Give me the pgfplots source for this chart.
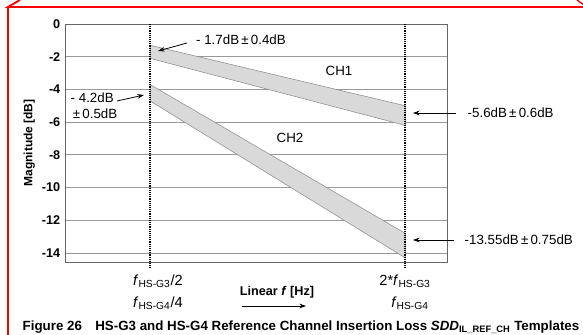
\documentclass[border=0pt]{standalone}
\usepackage{pgfplots}
\pgfplotsset{compat=1.18}
\usepackage{fontspec}
\setmainfont{Liberation Sans}
\usetikzlibrary{arrows.meta}
\begin{document}
\begin{tikzpicture}
\path[use as bounding box] (0,0) rectangle (437.25pt,251.25pt);
\begin{axis}[at={(48.75pt,54.75pt)}, anchor=south west, scale only axis,
  width=286.5pt, height=178.5pt,
  xmin=0, xmax=2.245, ymin=-14.55, ymax=0,
  ytick={-14,-12,-10,-8,-6,-4,-2,0}, xtick=\empty,
  ymajorgrids, grid style={black!40, line width=0.6pt},
  axis line style={draw=black!60, line width=0.7pt},
  major tick length=0pt,
  /pgf/number format/assume math mode=true,
  yticklabel style={font=\fontsize{9.5}{11}\selectfont\bfseries},
  ylabel={Magnitude [dB]},
  ylabel style={font=\fontsize{9}{11}\selectfont\bfseries, yshift=-1.5pt},
  clip=false]
\addplot[fill=gray!30, draw=black!45, line width=0.4pt] coordinates {(0.5,-1.3) (2,-5.0) (2,-6.2) (0.5,-2.1)} -- cycle;
\addplot[fill=gray!30, draw=black!45, line width=0.4pt] coordinates {(0.5,-3.7) (2,-12.8) (2,-14.3) (0.5,-4.7)} -- cycle;
\addplot[black, line width=1.3pt, dash pattern=on 0.7pt off 0.7pt] coordinates {(0.5,0) (0.5,-14.9)};
\addplot[black, line width=1.3pt, dash pattern=on 0.7pt off 0.7pt] coordinates {(2,0) (2,-14.9)};
\end{axis}
\begin{scope}[shift={(0pt,251.25pt)}, x=0.75pt, y=-0.75pt]
  \tikzset{arr/.style={-{Stealth[length=5pt,width=3.5pt]}, line width=0.6pt, black}}
  \def\ann{\fontsize{10}{12}\selectfont}
  % red frame
  \draw[red, line width=1.4pt] (20,0) -- (8,7) -- (590,7);
  \draw[red, line width=1.4pt] (8,7) -- (8,340);
  \draw[red, line width=1pt] (577,0) -- (584,5);
  % annotations
  \node[font=\ann] at (241,40) {- 1.7dB\,±\,0.4dB};
  \draw[arr] (187,43) -- (158,51);
  \node[font=\ann, align=left, anchor=west] at (66,106) {- 4.2dB\\\,±\,0.5dB};
  \draw[arr] (117,101) -- (144,95);
  \node[font=\ann] at (339,71) {CH1};
  \node[font=\ann] at (290,138) {CH2};
  \node[font=\ann, anchor=west] at (463,113) {-5.6dB\,±\,0.6dB};
  \draw[arr] (456,113) -- (413,113);
  \node[font=\ann, anchor=west] at (460,240) {-13.55dB\,±\,0.75dB};
  \draw[arr] (454,240) -- (413,240);
  % x labels
  \def\xl{\fontsize{11}{13}\selectfont}
  \node[font=\xl] at (158,281) {\textit{f}\textsubscript{HS-G3}/2};
  \node[font=\xl] at (158,303) {\textit{f}\textsubscript{HS-G4}/4};
  \node[font=\xl] at (405,281) {2*\textit{f}\textsubscript{HS-G3}};
  \node[font=\xl] at (410,303) {\textit{f}\textsubscript{HS-G4}};
  \node[font=\fontsize{9.5}{11}\selectfont\bfseries] at (277,292) {Linear \textit{f} [Hz]};
  \draw[arr] (242,306) -- (306,306);
  % caption
  \node[font=\fontsize{10}{12}\selectfont\bfseries] at (301,327) {Figure 26\quad HS-G3 and HS-G4 Reference Channel Insertion Loss \textit{SDD}\textsubscript{IL\_REF\_CH} Templates};
\end{scope}
\end{tikzpicture}
\end{document}
